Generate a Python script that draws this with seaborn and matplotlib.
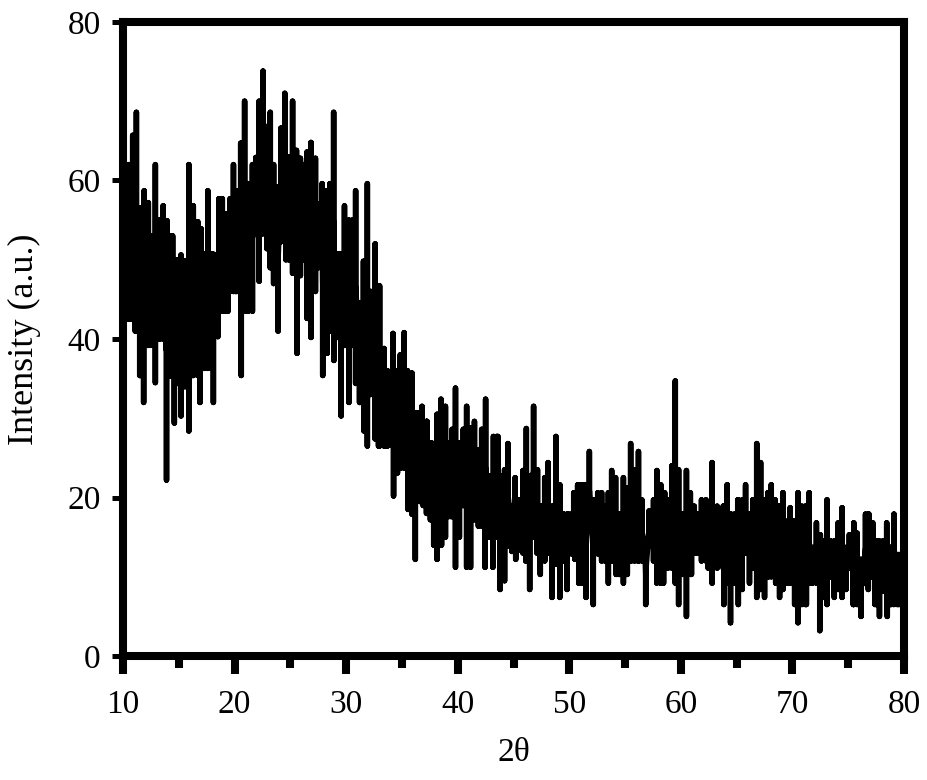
import numpy as np
import pandas as pd
import matplotlib
matplotlib.use("Agg")
import matplotlib.pyplot as plt
import seaborn as sns

top_x = [10.0,10.5,10.87,11.2,11.55,11.9,12.27,12.5,12.9,13.25,13.6,13.95,14.45,14.75,15.2,15.6,15.9,16.3,16.7,17.0,17.3,17.6,17.9,18.6,18.9,19.2,19.6,19.9,20.2,20.55,20.9,21.2,21.6,21.9,22.2,22.55,22.85,23.2,23.5,23.85,24.15,24.5,24.85,25.2,25.55,25.9,26.2,26.5,26.85,27.25,27.5,27.85,28.2,28.55,28.88,29.35,29.85,30.25,30.55,30.85,31.25,31.55,31.9,32.2,32.6,33.0,33.4,33.7,34.2,34.6,34.85,35.2,35.5,35.9,36.3,36.8,37.25,37.65,37.85,38.15,38.5,38.9,39.2,39.5,39.8,40.15,40.5,40.8,41.15,41.5,41.85,42.15,42.5,42.8,43.2,43.6,43.85,44.2,44.5,44.85,45.15,45.5,45.85,46.15,46.5,46.8,47.15,47.45,47.8,48.1,48.45,48.8,49.15,49.5,49.95,50.4,50.75,51.4,51.8,52.15,52.55,52.9,53.2,53.5,53.8,54.15,54.45,54.85,55.15,55.5,55.85,56.2,56.5,56.8,57.15,57.55,57.85,58.2,58.55,58.85,59.2,59.5,59.8,60.15,60.5,60.85,61.2,61.5,61.85,62.25,62.5,62.8,63.25,63.8,64.15,64.5,65.1,65.5,65.8,66.15,66.45,66.8,67.15,67.5,67.8,68.1,68.45,68.8,69.15,69.5,69.8,70.15,70.5,70.85,71.15,71.5,71.8,72.15,72.5,72.8,73.1,73.45,73.8,74.1,74.45,74.8,75.1,75.5,75.8,76.15,76.55,76.85,77.2,77.55,78.1,78.45,78.75,79.1,79.4,80.0]
top_y = [60,62,65.7,68.6,56.5,58.7,57.2,53,62,55,56.8,54.9,53,50,50.6,49.8,62,56.8,54.8,53.9,50.7,58.7,50.7,57.7,57.7,55.8,57.7,62,58.7,64.7,70,59.6,62,62.9,70,73.8,66.8,68.6,62,59.2,66.6,71,63,70,63.8,62.8,62,63.6,64.8,62.8,57,59.6,58.7,59.6,68.6,50.7,56.8,55,55,58.7,44.5,49.8,59.6,46,52,46.7,38.8,36,40.7,36,38,40.8,36,35.7,30.7,31.5,29.6,26.9,23.5,30.5,32.4,31.5,26.9,28.6,33.8,26.9,28.6,31.5,28.8,29.6,26,28.6,32.4,22.7,27.7,27.7,22.7,23.5,26.8,18.9,22.5,19.7,23.4,28.7,22.7,31.5,23.5,18.9,22.5,24.4,18.9,27.7,21.6,17.9,17.9,20.6,21.6,21.6,25.8,19.7,20.6,20.6,18.9,20.6,23.4,22.5,17.9,22.5,21.2,26.8,23.5,25.8,19.7,14.5,18.3,19.7,23.4,21.6,20.6,19.7,24,34.7,23.5,17.9,23.4,20.6,18.9,17.9,19.7,19.7,18.9,24.4,18.9,18.9,21.6,17.9,19.7,19.7,21.6,17.9,19.7,26.8,24.4,19.7,20.6,21.6,19.7,18.9,20.6,17,18.7,17,20.6,18.9,18.9,20.6,13.7,16.8,15.3,14.5,19.7,14.5,14.5,16.8,18.7,13.7,15.3,16.8,15.5,12.2,17.9,17.9,16.8,14.5,14.5,16.8,13.7,17.9,12.8,13]

low_x = [10.0,10.2,10.7,11.1,11.5,11.85,12.2,12.5,12.9,13.3,13.9,14.2,14.6,14.9,15.2,15.5,15.9,16.2,16.9,17.2,17.6,18.1,18.5,18.8,19.4,20.1,20.6,21.0,21.6,21.9,22.2,22.5,22.9,23.2,23.5,23.9,24.2,24.6,25.2,25.6,25.9,26.2,26.5,26.85,27.25,27.5,27.9,28.3,28.65,28.9,29.25,29.55,29.9,30.25,30.55,30.85,31.2,31.6,31.9,32.2,32.6,32.9,33.5,34.25,34.6,35.2,35.55,35.9,36.2,36.6,36.9,37.2,37.55,37.85,38.15,38.55,38.9,39.4,39.8,40.15,40.45,40.8,41.15,41.5,41.85,42.45,42.8,43.15,43.5,43.8,44.2,44.5,44.85,45.2,45.5,45.85,46.1,46.45,46.8,47.1,47.4,47.8,48.1,48.45,48.8,49.15,49.45,49.8,50.2,50.5,50.85,51.15,51.5,51.8,52.15,52.55,52.9,53.2,53.5,53.85,54.2,54.5,54.85,55.2,55.55,56.15,56.85,57.2,57.55,57.85,58.45,58.85,59.5,59.8,60.15,60.5,60.95,61.3,61.85,62.45,62.8,63.25,63.85,64.15,64.45,64.8,65.15,65.5,65.85,66.15,66.5,66.8,67.15,67.5,67.85,68.5,68.85,69.15,69.5,70.2,70.5,70.85,71.25,71.55,72.2,72.45,72.8,73.1,73.4,73.75,74.1,74.45,74.8,75.1,75.45,75.8,76.15,76.45,76.8,77.1,77.4,77.8,78.15,78.5,78.85,79.55,80.0]
low_y = [42,42.5,42.5,41,35.4,32,39.2,39.2,34.5,40,22.2,35.3,29.4,34.4,30.3,34,28.4,35.4,32,36.3,36.3,32,40.3,43.5,43.5,46,35.4,43.5,43.5,53.3,47.3,53.3,51.4,49,47,41,52.3,50,48.3,38.2,48,50,42.6,40.2,46,49,35.4,38.2,41,37.3,40.2,30.3,39.2,32,39.2,34.4,32,28.4,26.5,33,27.4,26.5,26.5,20.2,23.1,23.7,18.5,17.9,12.2,19.5,19,18,17.2,14,12.2,14,15,17.6,11.2,15,19,11.2,11.2,17.2,16.4,11.2,15,11.2,15,8.4,9.5,13.9,13.2,12.2,13.4,13,12,8.4,15,13,10.3,12,13,7.4,11.6,7.4,12,8.4,12.9,12.2,9.2,9.2,7.4,15.8,6.5,12.9,12,12,9.2,12,10.3,10.3,9.2,10.3,12,12,6.5,13.9,12,9.2,9.2,11.1,9.2,6.5,10.3,5,10.3,13,12,11.1,9.2,11.1,6.5,9.2,4.2,9.2,6.5,8.4,13,9.2,11.1,7.4,8.4,7.4,10,9.2,7.4,8.4,9.2,6.5,4.2,6.5,6.5,9.2,9.2,3.2,7.4,6.5,10,7.4,8.4,7.4,8.4,11.1,6.5,6.5,5,9.2,8.4,10,6.5,5,8.2,5,6.5,6.5,6.5]

x_ticks = [10, 20, 30, 40, 50, 60, 70, 80]
x_minor = [15, 25, 35, 45, 55, 65, 75]
y_ticks = [0, 20, 40, 60, 80]

sns.set_style("white")
plt.rcParams["font.family"] = ["Liberation Serif", "DejaVu Serif"]
plt.rcParams["text.color"] = "black"
plt.rcParams["xtick.labelcolor"] = "black"
plt.rcParams["ytick.labelcolor"] = "black"
plt.rcParams["axes.labelcolor"] = "black"

W, H = 927, 780
fig = plt.figure(figsize=(W / 100, H / 100), dpi=100)
ax = fig.add_axes([123 / W, 1 - 656 / H, (904 - 123) / W, (656 - 22) / H])


def envelope(xs, read_x, read_y, pick):
    """Read value at a read column; between columns, the shelf set by the two neighbours."""
    out = []
    for x in xs:
        j = int(np.searchsorted(read_x, x))
        if j < len(read_x) and read_x[j] == x:
            out.append(read_y[j])
        else:
            out.append(pick(read_y[j - 1], read_y[j]))
    return out


columns = sorted(set(top_x) | set(low_x))
upper = envelope(columns, top_x, top_y, min)
lower = envelope(columns, low_x, low_y, max)
trace_x, trace_y = [], []
for x, hi, lo in zip(columns, upper, lower):
    mid = (hi + lo) / 2
    trace_x += [x, x, x, x]
    trace_y += [mid, hi, lo, mid]
df = pd.DataFrame({"t": trace_x, "i": trace_y})

sns.lineplot(data=df, x="t", y="i", estimator=None, sort=False, color="black",
             linewidth=4.0, solid_joinstyle="round", solid_capstyle="round", ax=ax)

ax.set_xlim(10, 80)
ax.set_ylim(0, 80)
ax.set_xticks(x_ticks)
ax.set_xticks(x_minor, minor=True)
ax.set_yticks(y_ticks)
ax.tick_params(axis="x", which="major", direction="out", length=13, width=5.8, labelsize=24, pad=11, color="black", bottom=True)
ax.tick_params(axis="x", which="minor", direction="out", length=8.5, width=5.8, color="black", bottom=True)
ax.tick_params(axis="y", which="major", direction="out", length=8, width=3.6, labelsize=24, pad=8, color="black", left=True)
for s in ax.spines.values():
    s.set_visible(True)
    s.set_linewidth(5.8)
    s.set_color("black")
    s.set_zorder(5)
ax.set_xlabel("2θ", fontsize=24, labelpad=13)
ax.set_ylabel("Intensity (a.u.)", fontsize=26, labelpad=19)

fig.savefig("out.png", dpi=100)
